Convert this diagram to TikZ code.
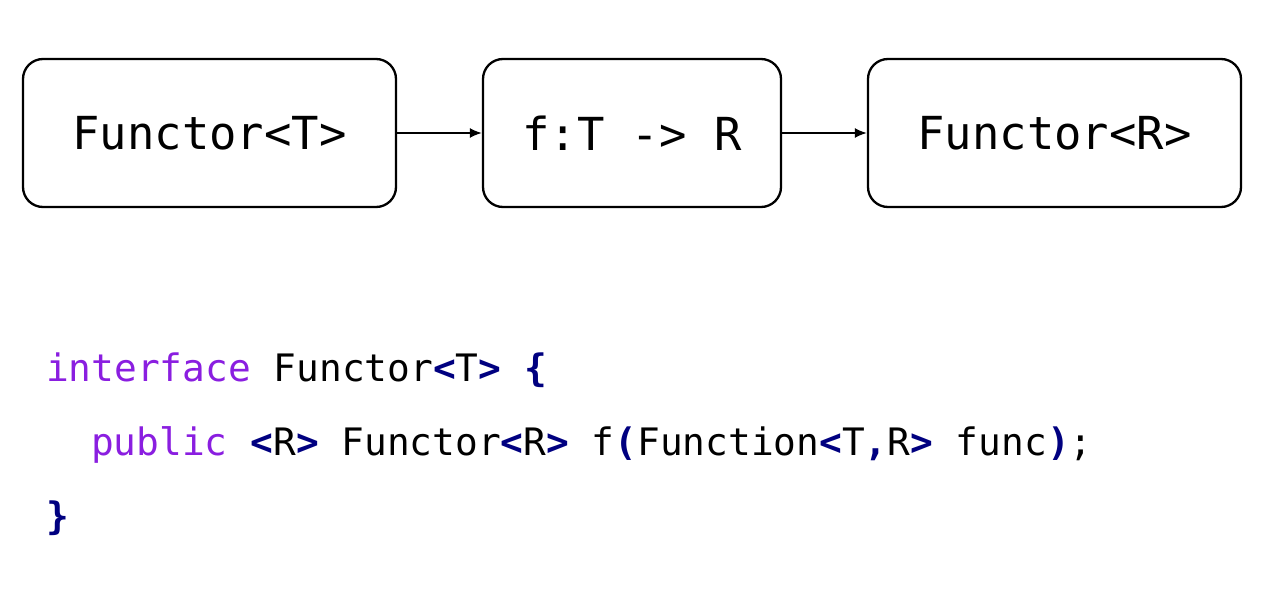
\documentclass[tikz,border=0pt]{standalone}
\usepackage{fontspec}
\setmonofont{DejaVu Sans Mono}
\usetikzlibrary{arrows.meta}
\definecolor{kwcol}{HTML}{8A1EE0}
\definecolor{brcol}{HTML}{000080}
\newcommand\cKw[1]{\textcolor{kwcol}{#1}}
\newcommand\cBr[1]{\textcolor{brcol}{\bfseries #1}}
\begin{document}
\begin{tikzpicture}[x=1pt,y=-1pt,
  box/.style={draw, line width=2.3pt, rounded corners=20pt, minimum height=148pt, inner sep=0pt,
    font=\ttfamily\fontsize{45.5}{45.5}\selectfont},
  conn/.style={-{Latex[length=12pt,width=10pt]}, line width=1.7pt},
  code/.style={anchor=base west, inner sep=0pt, font=\ttfamily\fontsize{37.8}{37.8}\selectfont}]
\useasboundingbox (0,0) rectangle (1280,597);
\node[box, minimum width=373pt] (b1) at (209.5,133) {Functor<T>};
\node[box, minimum width=298pt] (b2) at (632,133) {f:T -> R};
\node[box, minimum width=373pt] (b3) at (1054.5,133) {Functor<R>};
\draw[conn] (b1) -- (b2);
\draw[conn] (b2) -- (b3);
\node[code] (l1) at (46,381) {\cKw{interface} Functor\cBr{<}T\cBr{>} \cBr{\{}};
\node[code] (l2) at (91,455) {\cKw{public} \cBr{<}R\cBr{>} Functor\cBr{<}R\cBr{>} f\cBr{(}Function\cBr{<}T\cBr{,}R\cBr{>} func\cBr{)};};
\node[code] (l3) at (46,529) {\cBr{\}}};
\end{tikzpicture}
\end{document}
